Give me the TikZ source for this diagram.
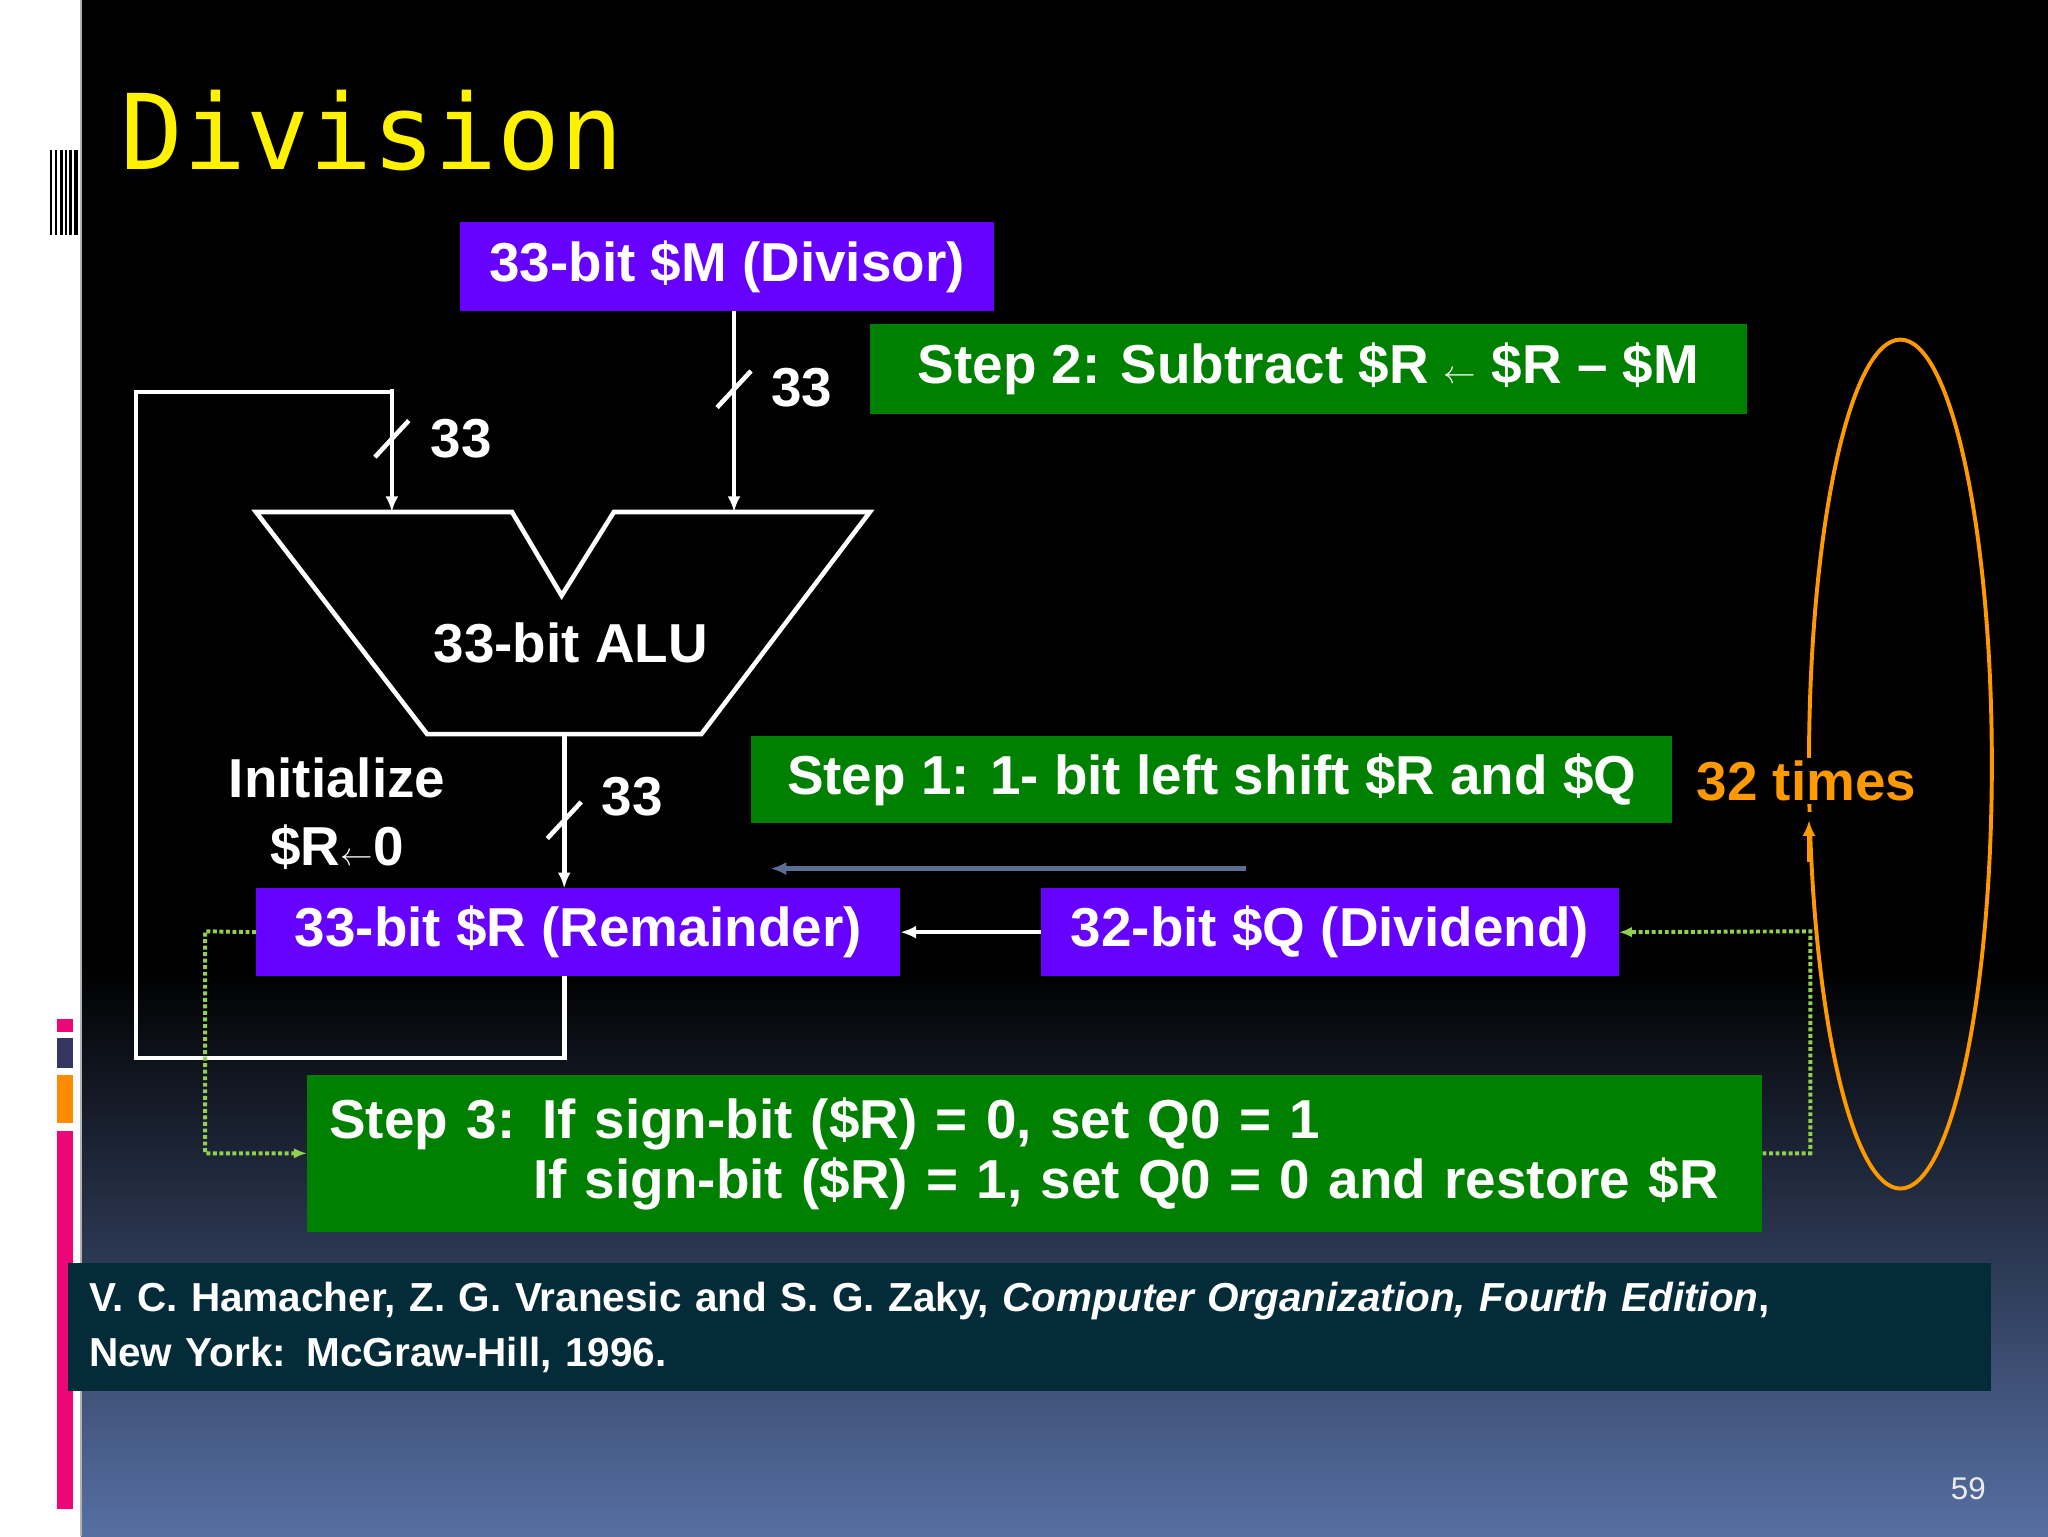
\documentclass[tikz,border=0pt]{standalone}
\usepackage{fontspec}
\setmainfont{Liberation Sans}
\newfontfamily\monof{DejaVu Sans Mono}
\usetikzlibrary{arrows.meta}
\definecolor{pur}{HTML}{6600FF}
\definecolor{grn}{HTML}{008000}
\definecolor{org}{HTML}{FF9900}
\definecolor{lgr}{HTML}{92D050}
\definecolor{teal}{HTML}{042B38}
\definecolor{bgb}{HTML}{566FA3}
\definecolor{gar}{HTML}{5A6F93}
\tikzset{
 box/.style={fill=#1,text=white,font=\fontsize{42}{46}\selectfont\bfseries,inner sep=0pt,anchor=north west},
 wire/.style={white,line width=3.5pt},
 bus/.style={wire,-{Latex[length=12pt,width=10pt]}},
 lab/.style={text=white,font=\fontsize{42}{46}\selectfont\bfseries},
 dot/.style={lgr,line width=3pt,dotted},
}
\begin{document}
\begin{tikzpicture}[x=1pt,y=-1pt]
\useasboundingbox (0,0) rectangle (1568,1176);
\fill[white] (0,0) rectangle (62,1176);
\fill[black] (62,0) rectangle (1568,740);
\shade[top color=black,bottom color=bgb] (62,740) rectangle (1568,1176);
\draw[gray!60,line width=1pt] (62,0)--(62,1176);
\foreach \x/\w in {38/1.5,42/1.5,46/2,50/1,53/2,57/3} \fill[black] (\x,115) rectangle ++(\w,65);
\fill[magenta!80!red] (44,780) rectangle (56,790);
\fill[gray!70!blue!60!black] (44,795) rectangle (56,818);
\fill[orange!90!yellow] (44,823) rectangle (56,860);
\fill[magenta!80!red] (44,866) rectangle (56,1155);
\node[anchor=base west,text=yellow,font=\monof\fontsize{80}{80}\selectfont,inner sep=0] (title) at (92,130) {Division};
% boxes
\node[box=pur,minimum width=409pt,minimum height=68pt] (M) at (352,170) {33-bit \$M (Divisor)};
\node[box=grn,minimum width=671pt,minimum height=69pt] (S2) at (666,248) {Step 2: Subtract \$R $\leftarrow$ \$R – \$M};
\node[box=grn,minimum width=705pt,minimum height=67pt] (S1) at (575,563) {Step 1: 1- bit left shift \$R and \$Q};
\node[box=pur,minimum width=493pt,minimum height=67pt] (R) at (196,680) {33-bit \$R (Remainder)};
\node[box=pur,minimum width=442pt,minimum height=67pt] (Q) at (797,680) {32-bit \$Q (Dividend)};
\node[box=grn,minimum width=1111pt,minimum height=120pt,align=left,text width=1080pt,inner xsep=17pt] (S3) at (235,823) {Step 3: If sign-bit (\$R) = 0, set Q0 = 1\\\hspace*{156pt}If sign-bit (\$R) = 1, set Q0 = 0 and restore \$R};
\node[box=teal,minimum width=1464pt,minimum height=98pt,align=left,text width=1440pt,inner xsep=16pt,font=\fontsize{31}{42}\selectfont\bfseries] (ref) at (52,967) {V. C. Hamacher, Z. G. Vranesic and S. G. Zaky, \textit{Computer Organization, Fourth Edition},\\New York: McGraw-Hill, 1996.};
\node[text=white!85!gray,font=\fontsize{24}{24}\selectfont] (pg) at (1507,1140) {59};
% ALU
\draw[wire,line join=miter] (196,392)--(392,392)--(430,456)--(470,392)--(666,392)--(537,562)--(327,562)--cycle;
\node[lab] (alu) at (437,492) {33-bit ALU};
\coordinate (aluA) at (300,392);
\coordinate (aluB) at (562,392);
\coordinate (aluO) at (432,562);
% buses
\draw[bus] (M.south -| aluB) -- (aluB);
\draw[wire] (549,312)--(575,284);
\node[lab] (n1) at (614,297) {33};
\draw[wire] (432,747)--(432,810)--(104,810)--(104,300)--(300,300);
\draw[bus] (300,298)--(aluA);
\draw[wire] (287,350)--(313,322);
\node[lab] (n2) at (353,336) {33};
\draw[bus] (aluO)--(R.north -| aluO);
\draw[wire] (419,642)--(445,614);
\node[lab] (n3) at (484,610) {33};
\node[lab,align=center,font=\fontsize{42}{52}\selectfont\bfseries] (init) at (258,623) {Initialize\\\$R$\leftarrow$0};
\draw[bus] (Q.west)--(R.east);
\draw[gar,line width=4pt,-{Latex[length=12pt,width=10pt]}] (954,665)--(590,665);
% dotted
\draw[dot,-{Latex[length=10pt,width=8pt]}] (R.west)--(157,713)--(157,883)--(S3.west |- 0,883);
\draw[dot,-{Latex[length=10pt,width=8pt]}] (S3.east |- 0,883)--(1386,883)--(1386,713)--(Q.east);
% loop
\draw[org,line width=3pt] (1455,585) ellipse (70 and 325);
\node[text=org,font=\fontsize{42}{46}\selectfont\bfseries,fill=black,inner sep=2pt] (t32) at (1383,598) {32 times};
\fill[black] (1378,622) rectangle (1392,640);
\draw[org,line width=3pt,-{Latex[length=12pt,width=10pt]}] (1385,660)--(1385,628);
\end{tikzpicture}
\end{document}
